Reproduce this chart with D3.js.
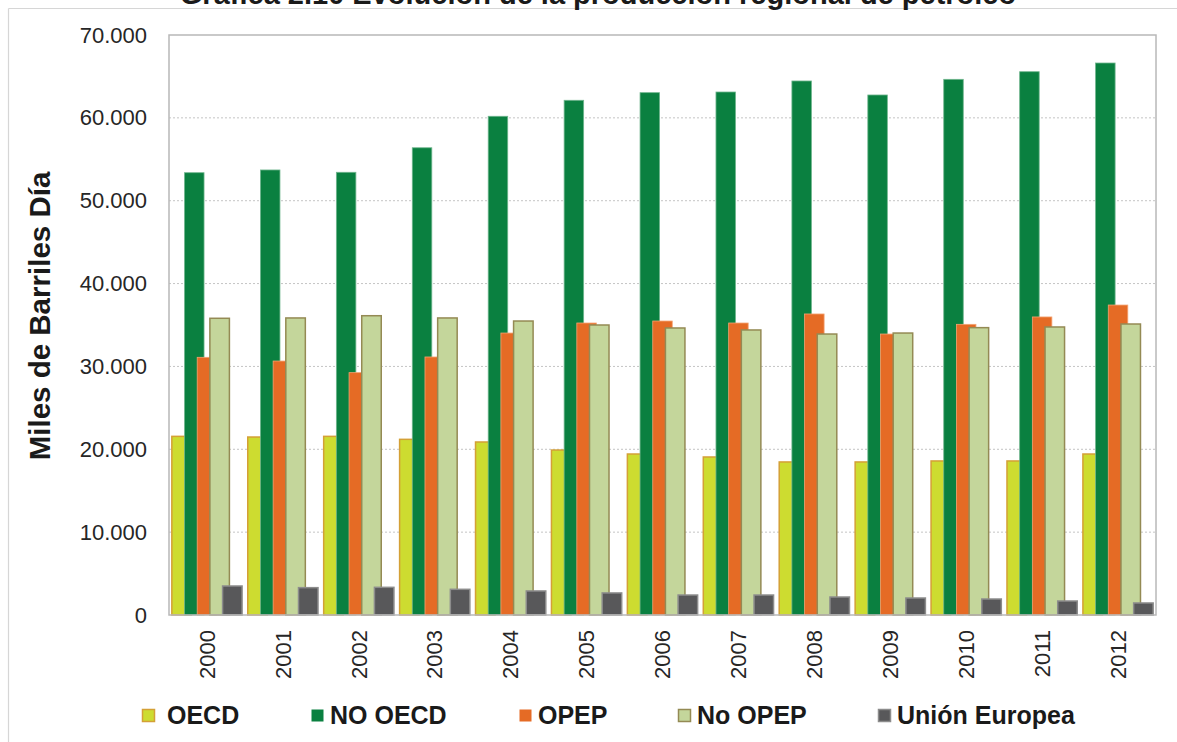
<!DOCTYPE html>
<html>
<head>
<meta charset="utf-8">
<script src="https://cdn.jsdelivr.net/npm/d3@7"></script>
<style>
  html, body { margin: 0; padding: 0; background: #fff; }
  svg { display: block; font-family: "Liberation Sans", Arial, sans-serif; }
</style>
</head>
<body>
<svg id="chart" width="1177" height="742"></svg>
<script>
const years = ["2000","2001","2002","2003","2004","2005","2006","2007","2008","2009","2010","2011","2012"];
const seriesNames = ["OECD", "NO OECD", "OPEP", "No OPEP", "Unión Europea"];
const oecd   = [21560, 21480, 21560, 21200, 20880, 19910, 19430, 19070, 18470, 18470, 18590, 18590, 19430];
const noOecd = [53380, 53710, 53430, 56390, 60190, 62120, 63040, 63120, 64450, 62760, 64650, 65570, 66620];
const opep   = [31100, 30650, 29250, 31140, 34030, 35240, 35480, 35240, 36330, 33910, 35080, 35970, 37410];
const noOpep = [35810, 35850, 36120, 35850, 35480, 35000, 34640, 34400, 33910, 34030, 34680, 34760, 35120];
const ue     = [3500, 3300, 3340, 3100, 2900, 2660, 2410, 2410, 2170, 2050, 1930, 1690, 1450];
const yTicks = [0, 10000, 20000, 30000, 40000, 50000, 60000, 70000];
const yTickLabels = ["0", "10.000", "20.000", "30.000", "40.000", "50.000", "60.000", "70.000"];
const titleText = "Gráfica 2.10 Evolución de la producción regional de petróleo";
const yTitle = "Miles de Barriles Día";

(function () {
const fills   = ["#cddc30", "#0a8040", "#e56b25", "#c4d69b", "#58585a"];
const strokes = ["#d4a036", "#6fb58d", "#f3a373", "#948a54", "#8c8c8c"];
const seriesData = [oecd, noOecd, opep, noOpep, ue];

const svg = d3.select("#chart");
const pLeft = 169, pRight = 1156, pTop = 35, pBottom = 615;

// outer frame
svg.append("line").attr("x1", 8.5).attr("x2", 1177).attr("y1", 8.5).attr("y2", 8.5)
  .attr("stroke", "#d6d6d6").attr("stroke-width", 1.2);
svg.append("line").attr("x1", 8.5).attr("x2", 8.5).attr("y1", 8.5).attr("y2", 742)
  .attr("stroke", "#d6d6d6").attr("stroke-width", 1.2);

// title (clipped at top, as in the reference)
svg.append("text").attr("x", 598).attr("y", 3.5).attr("text-anchor", "middle")
  .attr("font-weight", "bold").attr("font-size", 29).attr("fill", "#1a1a1a").text(titleText);

const x = d3.scaleBand().domain(years).range([pLeft, pRight]).padding(0);
const y = d3.scaleLinear().domain([0, 70000]).range([pBottom, pTop]);

// gridlines
svg.append("g").selectAll("line").data(yTicks.filter(t => t > 0 && t < 70000)).join("line")
  .attr("x1", pLeft).attr("x2", pRight)
  .attr("y1", d => y(d)).attr("y2", d => y(d))
  .attr("stroke", "#c4c4c4").attr("stroke-width", 1).attr("stroke-dasharray", "2,2");

// bars
const bw = x.bandwidth();
const overlap = 0.35, gapW = 0.29;
const barW = bw / (5 - 4 * overlap + gapW);
const step = barW * (1 - overlap);
const offset = (bw - (barW + 4 * step)) / 2;

seriesData.forEach((vals, si) => {
  svg.append("g").selectAll("rect").data(vals).join("rect")
    .attr("x", (d, i) => x(years[i]) + offset + si * step)
    .attr("y", d => y(d))
    .attr("width", barW)
    .attr("height", d => y(0) - y(d))
    .attr("fill", fills[si])
    .attr("stroke", strokes[si])
    .attr("stroke-width", si === 1 || si === 2 ? 0.8 : 1.5);
});

// plot border
svg.append("rect").attr("x", pLeft).attr("y", pTop).attr("width", pRight - pLeft).attr("height", pBottom - pTop)
  .attr("fill", "none").attr("stroke", "#b8b8b8").attr("stroke-width", 1.5);

// y axis
const yAxis = d3.axisLeft(y).tickValues(yTicks).tickFormat((d, i) => yTickLabels[i]).tickSize(0).tickPadding(22);
const yg = svg.append("g").attr("transform", `translate(${pLeft},0)`).call(yAxis);
yg.select(".domain").remove();
yg.selectAll("text").attr("font-size", 22).attr("fill", "#262626")
  .attr("font-family", "'Liberation Sans', Arial, sans-serif");

// x axis
const xAxis = d3.axisBottom(x).tickSize(0);
const xg = svg.append("g").attr("transform", `translate(0,${pBottom})`).call(xAxis);
xg.select(".domain").remove();
xg.selectAll("text")
  .attr("font-size", 22).attr("fill", "#262626")
  .attr("font-family", "'Liberation Sans', Arial, sans-serif")
  .attr("text-anchor", "end")
  .attr("transform", "translate(0,15) rotate(-90)")
  .attr("x", 0).attr("y", 0).attr("dy", "0.35em");

// y title
svg.append("text").attr("transform", "translate(40,316) rotate(-90)")
  .attr("text-anchor", "middle").attr("dy", "0.35em")
  .attr("font-weight", "bold").attr("font-size", 29.5).attr("fill", "#1a1a1a").text(yTitle);

// legend
const legendX = [142, 311, 519, 678, 878];
const lg = svg.append("g");
seriesNames.forEach((name, i) => {
  lg.append("rect").attr("x", legendX[i] + 0.5).attr("y", 709.5).attr("width", 12).attr("height", 12)
    .attr("fill", fills[i]).attr("stroke", i === 1 || i === 2 ? "none" : strokes[i]).attr("stroke-width", 1.5);
  lg.append("text").attr("x", legendX[i] + (i === 0 ? 25 : 19)).attr("y", 724)
    .attr("font-weight", "bold").attr("font-size", 25).attr("fill", "#1a1a1a").text(name);
});
})();
</script>
</body>
</html>
